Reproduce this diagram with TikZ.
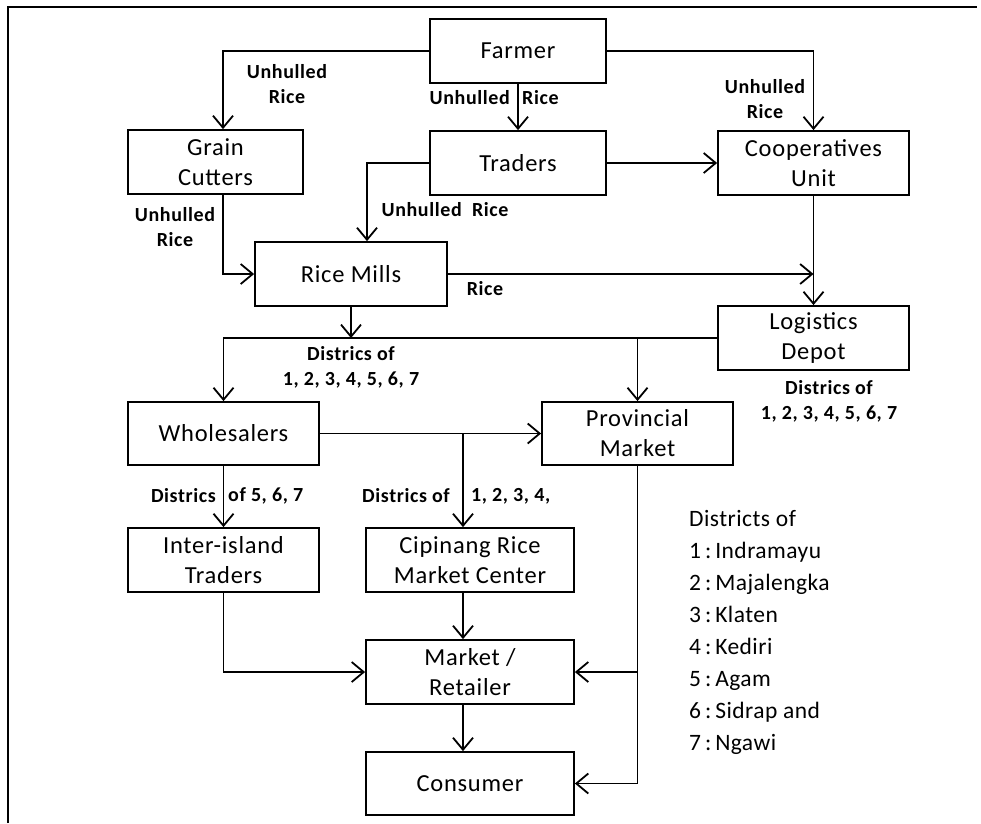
\documentclass[tikz,border=0pt]{standalone}
\usepackage{fontspec}
\setmainfont{Carlito}
\usetikzlibrary{arrows.meta}

\begin{document}
\begin{tikzpicture}[x=1pt, y=-1pt,
  box/.style={draw, line width=1.8pt, minimum height=64pt, align=center,
    inner sep=0pt, font=\fontsize{24.5}{30}\selectfont\addfontfeatures{LetterSpace=3}},
  lbl/.style={inner sep=0pt, align=center, font=\fontsize{20}{25}\selectfont\bfseries\addfontfeatures{LetterSpace=3}},
  arr/.style={line width=1.8pt, -{Straight Barb[length=12pt,width=20pt]}}]
\useasboundingbox (0,0) rectangle (981,823);

%frame
\draw[line width=2.4pt] (8,823) -- (8,7) -- (977,7);

%boxes
\node[box, minimum width=176pt] (farmer) at (518,51) {Farmer};
\node[box, minimum width=176pt] (traders) at (518,163) {Traders};
\node[box, minimum width=175pt] (grain) at (215.5,162) {Grain\\Cutters};
\node[box, minimum width=191pt] (coop) at (813.5,163) {Cooperatives\\Unit};
\node[box, minimum width=192pt] (mills) at (351,274) {Rice Mills};
\node[box, minimum width=191pt] (depot) at (813.5,338) {Logistics\\Depot};
\node[box, minimum width=191pt, minimum height=63pt] (whole) at (223.5,433.5) {Wholesalers};
\node[box, minimum width=191pt, minimum height=63pt] (prov) at (637.5,433.5) {Provincial\\Market};
\node[box, minimum width=191pt] (inter) at (223.5,560) {Inter-island\\Traders};
\node[box, minimum width=208pt] (cip) at (470,560) {Cipinang Rice\\Market Center};
\node[box, minimum width=208pt] (market) at (470,672) {Market /\\Retailer};
\node[box, minimum width=208pt, minimum height=63pt] (consumer) at (470,783.5) {Consumer};

%from farmer
\draw[arr] (farmer.west) -| ([xshift=7.5pt]grain.north);
\draw[arr] (farmer.east) -| (coop.north);
\draw[arr] (farmer.south) -- (traders.north);
\draw[arr] (traders.east) -- (coop.west);
\draw[arr] (traders.west) -| ([xshift=16pt]mills.north);
\draw[arr] ([xshift=7.5pt]grain.south) |- (mills.west);

%to depot
\coordinate (jc) at (coop.south |- mills.east);
\draw[arr] (mills.east) -- (jc);
\draw[arr] (coop.south) -- (depot.north);

%distribution line
\coordinate (jm) at (mills.south |- depot.west);
\draw[arr] (mills.south) -- (jm);
\draw[arr] (depot.west) -| (whole.north);
\draw[arr] (prov.north |- depot.west) -- (prov.north);

%wholesalers
\draw[arr] (whole.east) -- (prov.west);
\draw[arr] ([xshift=-7pt]cip.north |- whole.east) -- ([xshift=-7pt]cip.north);
\draw[arr] (whole.south) -- (inter.north);
\draw[arr] (inter.south) |- (market.west);
\draw[arr] ([xshift=-7pt]cip.south) -- ([xshift=-7pt]market.north);
\draw[arr] ([xshift=-7pt]market.south) -- ([xshift=-7pt]consumer.north);
\draw[arr] (prov.south) |- (consumer.east);
\draw[arr] (prov.south |- market.east) -- (market.east);

%labels
\node[lbl] (l1) at (287,84) {Unhulled\\Rice};
\node[lbl, anchor=east] (l2a) at (510,98) {Unhulled};
\node[lbl, anchor=west] (l2b) at (522,98) {Rice};
\node[lbl] (l3) at (765,99) {Unhulled\\Rice};
\node[lbl] (l4) at (445,210) {Unhulled\ \ Rice};
\node[lbl] (l5) at (175,227) {Unhulled\\Rice};
\node[lbl] (l6) at (485,289) {Rice};
\node[lbl] (l7) at (351,367) {Districs of\\1, 2, 3, 4, 5, 6, 7};
\node[lbl] (l8) at (829,401) {Districs of\\1, 2, 3, 4, 5, 6, 7};
\node[lbl, anchor=east] (l9a) at (216,496) {Districs};
\node[lbl, anchor=west] (l9b) at (228,496) {of 5, 6, 7};
\node[lbl, anchor=east] (l10a) at (450,496) {Districs of};
\node[lbl, anchor=west] (l10b) at (471,496) {1, 2, 3, 4,};

%legend
\node[anchor=north west, inner sep=0pt, align=left,
  font=\fontsize{23.5}{32}\selectfont\addfontfeatures{LetterSpace=2}]
  (legend) at (689,510) {Districts of\\1\,:\,Indramayu\\2\,:\,Majalengka\\3\,:\,Klaten\\4\,:\,Kediri\\5\,:\,Agam\\6\,:\,Sidrap and\\7\,:\,Ngawi};
\end{tikzpicture}
\end{document}
